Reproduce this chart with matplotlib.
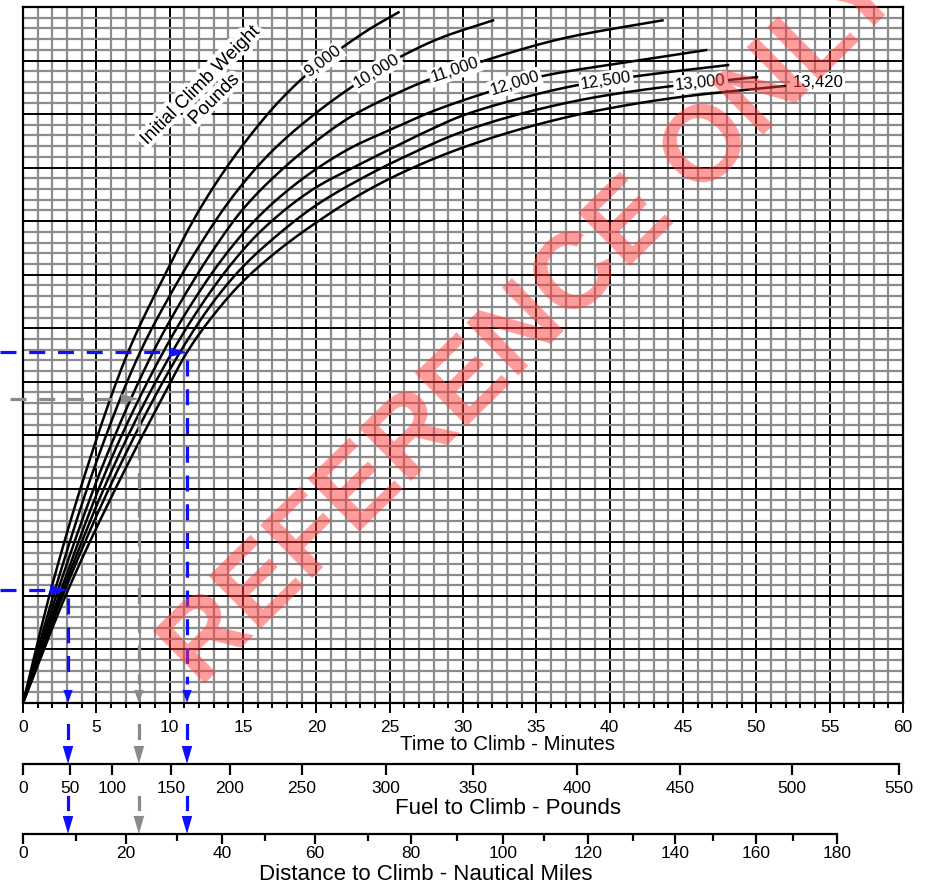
import numpy as np
import matplotlib
matplotlib.use("Agg")
import matplotlib.pyplot as plt
import matplotlib.patheffects as pe
import matplotlib.transforms as mtransforms
from matplotlib.ticker import MultipleLocator

plt.rcParams['font.family'] = ['Liberation Sans', 'DejaVu Sans']

# ---------------------------------------------------------------
# Climb curves: time (min) vs pressure altitude (x1000 ft)
# ---------------------------------------------------------------
weights = ["9,000", "10,000", "11,000", "12,000", "12,500", "13,000", "13,420"]

t_9000 = [0, 1.9, 4.2, 7.16, 9.68, 12, 14, 16, 17.5, 19.5, 21.8, 23.7, 25.6]
a_9000 = [0, 4.22, 8.5, 13.1, 16.0, 18.4, 20.1, 21.55, 22.5, 23.55, 24.5, 25.2, 25.8]

t_10000 = [0, 2.18, 5.0, 7.98, 10, 12, 14, 16, 17.52, 20, 22.3, 25.6, 28.5, 32.05]
a_10000 = [0, 4.22, 9.0, 13.1, 15.21, 17.06, 18.7, 20.05, 20.9, 22.05, 22.97, 24.1, 24.85, 25.5]

t_11000 = [0, 2.39, 5.6, 8.86, 11, 13, 15, 17.5, 20, 22.5, 25, 27.5, 31.2, 37, 43.6]
a_11000 = [0, 4.22, 9.1, 13.1, 15.21, 16.95, 18.45, 19.85, 21.0, 21.95, 22.65, 23.25, 23.95,
           24.85, 25.5]

t_12000 = [0, 2.59, 6.0, 9.55, 11.55, 13.55, 15.55, 17.5, 20, 22.5, 25, 28, 31.6, 35.25,
           40.7, 46.57]
a_12000 = [0, 4.22, 9.1, 13.1, 14.96, 16.56, 17.88, 18.9, 19.95, 20.78, 21.4, 22.12, 22.8,
           23.4, 23.9, 24.39]

t_12500 = [0, 2.73, 6.4, 10.16, 12.16, 14.16, 16.16, 19.8, 22.5, 25, 27.5, 30, 34, 38, 43,
           48.07]
a_12500 = [0, 4.22, 9.1, 13.1, 14.87, 16.37, 17.6, 19.2, 20.0, 20.68, 21.35, 21.95, 22.6,
           23.1, 23.5, 23.83]

t_13000 = [0, 2.86, 6.6, 10.7, 13, 15, 17.5, 20, 23, 26, 30, 35, 39.34, 44.3, 50.04]
a_13000 = [0, 4.22, 8.86, 13.1, 15.0, 16.3, 17.55, 18.6, 19.57, 20.4, 21.35, 22.16, 22.66,
           23.05, 23.38]

t_13420 = [0, 3.07, 6.3, 9.55, 11.18, 13, 15, 17.5, 20, 23, 26, 30, 35, 39.34, 45, 51.95]
a_13420 = [0, 4.22, 8.0, 11.45, 13.1, 14.5, 15.75, 16.95, 17.95, 19.0, 19.85, 20.75, 21.6,
           22.15, 22.65, 23.05]

# where each weight label sits along its curve (minutes)
label_t = [20.45, 24.1, 29.45, 33.55, 39.75, 46.2, 54.2]

# Fuel and distance scales, with the time (min) each tick lines up with
fuel_ticks = [0, 50, 100, 150, 200, 250, 300, 350, 400, 450, 500, 550]
fuel_minutes = [0, 3.20, 6.07, 10.09, 14.11, 19.02, 24.74, 30.67, 37.76, 44.78, 52.42, 59.71]

dist_ticks = [0, 10, 20, 30, 40, 50, 60, 70, 80, 90, 100, 110, 120, 130, 140, 150, 160, 170, 180]
dist_minutes = [0, 3.61, 7.02, 10.50, 13.57, 16.50, 19.90, 23.52, 26.45, 29.6, 32.72,
                35.52, 38.51, 41.58, 44.44, 47.03, 49.97, 52.49, 55.49]

# worked example: altitudes read across to the chart
example_low_alt = 4.22
example_high_alt = 13.1
example_gray_alt = 11.36
example_gray_t = 7.9

curves = [(t_9000, a_9000), (t_10000, a_10000), (t_11000, a_11000), (t_12000, a_12000),
          (t_12500, a_12500), (t_13000, a_13000), (t_13420, a_13420)]


def pchip(x, y, xs):
    """monotone cubic through the read points"""
    x = np.asarray(x, float)
    y = np.asarray(y, float)
    h = np.diff(x)
    d = np.diff(y) / h
    m = np.zeros_like(y)
    for k in range(1, len(x) - 1):
        if d[k - 1] * d[k] > 0:
            w1 = 2 * h[k] + h[k - 1]
            w2 = h[k] + 2 * h[k - 1]
            m[k] = (w1 + w2) / (w1 / d[k - 1] + w2 / d[k])
    m[0] = d[0]
    m[-1] = d[-1]
    idx = np.clip(np.searchsorted(x, xs) - 1, 0, len(x) - 2)
    hh = h[idx]
    s = (xs - x[idx]) / hh
    h00 = 2 * s**3 - 3 * s**2 + 1
    h10 = s**3 - 2 * s**2 + s
    h01 = -2 * s**3 + 3 * s**2
    h11 = s**3 - s**2
    return h00 * y[idx] + h10 * hh * m[idx] + h01 * y[idx + 1] + h11 * hh * m[idx + 1]


W, H = 925, 885
fig = plt.figure(figsize=(W / 100, H / 100), dpi=100)

# main chart -------------------------------------------------------
ax = fig.add_axes([23 / W, 1 - 703 / H, 880 / W, 696 / H])
ax.set_xlim(0, 60)
ax.set_ylim(0, 26)
ax.xaxis.set_major_locator(MultipleLocator(5))
ax.xaxis.set_minor_locator(MultipleLocator(1))
ax.yaxis.set_major_locator(MultipleLocator(2))
ax.yaxis.set_minor_locator(MultipleLocator(0.4))
ax.grid(which='minor', color='#8c8c8c', lw=1.6, zorder=0)
ax.grid(which='major', color='black', lw=1.4, zorder=0.5)
ax.set_axisbelow(True)
ax.tick_params(axis='y', which='both', left=False, labelleft=False)
ax.tick_params(axis='x', which='major', direction='out', length=7, width=1.4,
               labelsize=12.5, pad=5)
ax.tick_params(axis='x', which='minor', direction='out', length=3.5, width=1.4)
for sp in ax.spines.values():
    sp.set_linewidth(1.6)

fine = []
for (tt, aa) in curves:
    xs = np.linspace(0, tt[-1], 400)
    ys = pchip(tt, aa, xs)
    fine.append((xs, ys))
    ax.plot(xs, ys, color='black', lw=1.8, zorder=3)

# weight labels sitting on the curves
for k, (name, lt) in enumerate(zip(weights, label_t)):
    xs, ys = fine[k]
    if lt > xs[-1]:
        yy, ang = ys[-1] + 0.12, 0
    else:
        yy = np.interp(lt, xs, ys)
        p1 = ax.transData.transform((lt - 0.6, np.interp(lt - 0.6, xs, ys)))
        p2 = ax.transData.transform((lt + 0.6, np.interp(lt + 0.6, xs, ys)))
        ang = np.degrees(np.arctan2(p2[1] - p1[1], p2[0] - p1[0]))
    ax.text(lt, yy, name, rotation=ang, rotation_mode='anchor', ha='center', va='center',
            fontsize=12, zorder=5,
            bbox=dict(boxstyle='square,pad=0.12', fc='white', ec='none'))

ax.text(12.55, 22.8, "Initial Climb Weight\nPounds", rotation=45, rotation_mode='anchor',
        ha='center', va='center', fontsize=13.5, linespacing=1.2, zorder=5,
        path_effects=[pe.withStroke(linewidth=6, foreground='white')])

# worked example ---------------------------------------------------
blue = '#1010ff'
gray = '#8a8a8a'
xs13, ys13 = fine[-1]
t_hi = np.interp(example_high_alt, ys13, xs13)
t_lo = np.interp(example_low_alt, ys13, xs13)

dash_ls = (0, (5, 4))
dash = dict(lw=2.3, ls=dash_ls, clip_on=False, zorder=6)
ax.plot([-1.6, t_hi - 1.0], [example_high_alt] * 2, color=blue, **dash)
ax.plot([t_hi, t_hi], [example_high_alt - 0.3, 0.7], color=blue, **dash)
ax.plot([-1.6, t_lo - 1.0], [example_low_alt] * 2, color=blue, **dash)
ax.plot([t_lo, t_lo], [example_low_alt - 0.3, 0.7], color=blue, **dash)
ax.plot([-0.9, example_gray_t - 1.0], [example_gray_alt] * 2, color=gray, **dash)
ax.plot([example_gray_t, example_gray_t], [example_gray_alt - 0.6, 0.7], color=gray, **dash)


def arrow(ax_, xy, dx, dy, col, hl, hw, trans=None):
    ax_.annotate('', xy=xy, xycoords=trans if trans is not None else 'data',
                 xytext=(dx, dy), textcoords='offset points',
                 arrowprops=dict(fc=col, ec=col, lw=0, shrinkA=0, shrinkB=0, mutation_scale=20,
                                 arrowstyle=f'-|>,head_length={hl},head_width={hw}'),
                 annotation_clip=False, zorder=7)


arrow(ax, (t_hi, example_high_alt), -13, 0, blue, 0.65, 0.18)
arrow(ax, (t_lo, example_low_alt), -13, 0, blue, 0.65, 0.18)
arrow(ax, (example_gray_t, example_gray_alt), -13, 0, gray, 0.65, 0.18)
for tx, col in [(t_hi, blue), (t_lo, blue), (example_gray_t, gray)]:
    arrow(ax, (tx, 0), 0, 10, col, 0.47, 0.17)

ax.text((508 - 23) / 880, (703 - 745) / 696, "Time to Climb - Minutes", transform=ax.transAxes,
        ha='center', va='center', fontsize=14.8)

# fuel and distance scales ------------------------------------------
def scale_axis(ypix, ticks, minutes, labelled, major_len, minor_len, pad):
    sa = fig.add_axes([23 / W, 1 - ypix / H, 880 / W, 0.0001])
    sa.set_xlim(0, 60)
    sa.patch.set_visible(False)
    for s in ['top', 'left', 'right']:
        sa.spines[s].set_visible(False)
    sa.spines['bottom'].set_linewidth(1.6)
    sa.spines['bottom'].set_bounds(0, minutes[-1])
    sa.set_yticks([])
    maj = [m for m, v in zip(minutes, ticks) if v in labelled]
    mn = [m for m, v in zip(minutes, ticks) if v not in labelled]
    sa.set_xticks(maj)
    sa.set_xticklabels([str(v) for v in ticks if v in labelled])
    sa.set_xticks(mn, minor=True)
    sa.tick_params(axis='x', which='major', direction='out', length=major_len, width=1.6,
                   labelsize=12.5, pad=pad)
    sa.tick_params(axis='x', which='minor', direction='out', length=minor_len, width=1.6)
    return sa


ax_fuel = scale_axis(764, fuel_ticks, fuel_minutes, fuel_ticks, 8, 8, 4)
ax_dist = scale_axis(834, dist_ticks, dist_minutes, dist_ticks[::2], 7.5, 5, 1.5)

fig.text(508 / W, 1 - 809 / H, "Fuel to Climb - Pounds", ha='center', va='center', fontsize=16)
fig.text(426 / W, 1 - 875 / H, "Distance to Climb - Nautical Miles", ha='center', va='center',
         fontsize=16)

# example carried down onto the fuel and distance scales
blend = mtransforms.blended_transform_factory(ax.transData, fig.transFigure)
for tx, col in [(t_hi, blue), (t_lo, blue), (example_gray_t, gray)]:
    for y0, y1 in [(725, 738), (797, 809)]:
        fig.lines.append(plt.Line2D([tx, tx], [1 - y0 / H, 1 - y1 / H], transform=blend,
                                    color=col, lw=2.3))
    for yl in (764, 834):
        arrow(ax, (tx, 1 - yl / H), 0, 14, col, 0.65, 0.19, trans=blend)

# watermark
fig.text(200 / W, 1 - 688 / H, "REFERENCE ONLY", rotation=44.5, rotation_mode='anchor',
         ha='left', va='baseline', fontsize=78, fontweight='bold', color='#ff3b3b',
         alpha=0.5, zorder=10)

fig.savefig("out.png", dpi=100)
